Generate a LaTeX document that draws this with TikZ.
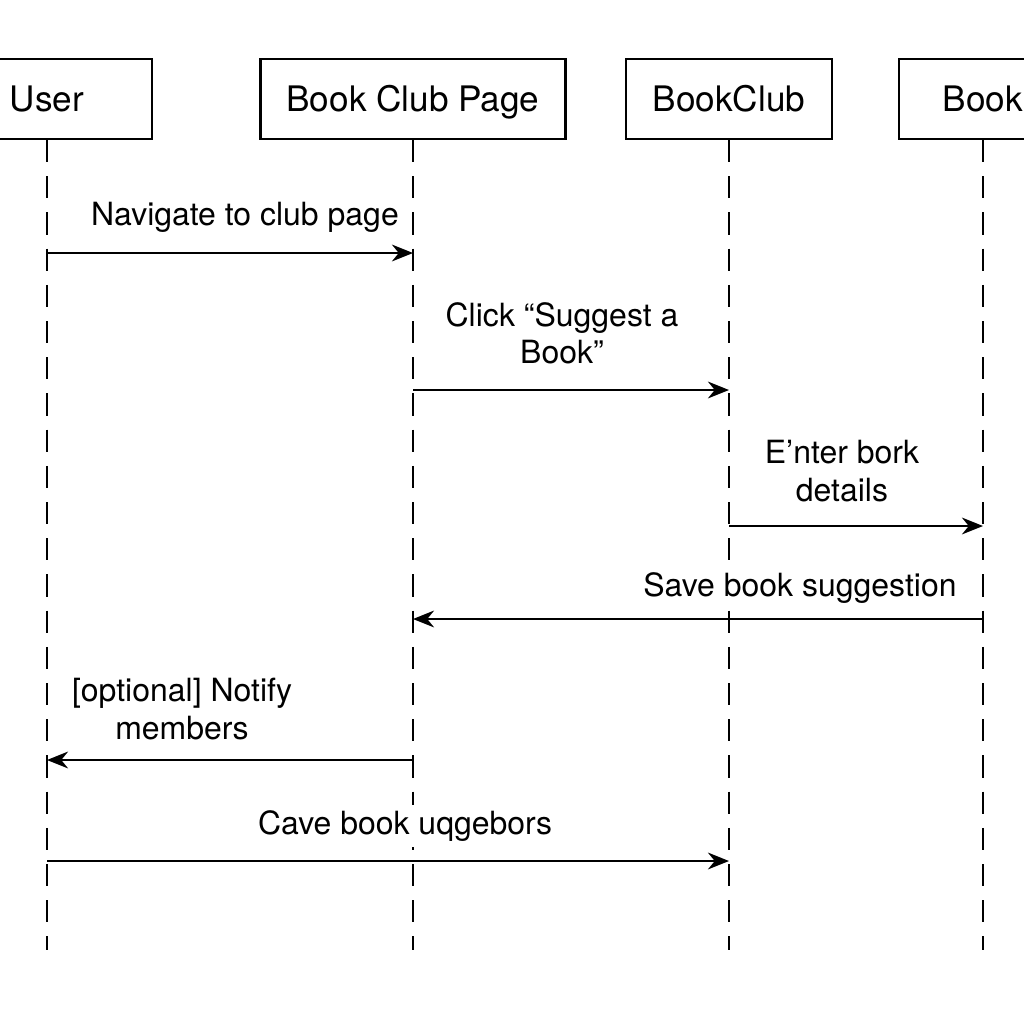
\documentclass[tikz,border=0pt]{standalone}
\usepackage{fontspec}
\setmainfont{TeX Gyre Heros}
\usetikzlibrary{arrows.meta}
\usetikzlibrary{positioning}

\begin{document}
\begin{tikzpicture}[>={Stealth[length=6pt,width=4.8pt]},
	actor/.style={draw,rectangle,line width=0.6pt,minimum height=0.8cm,inner sep=0pt,
		text height=0.9em,text depth=0.2em,font=\fontsize{10}{12}\selectfont},
	lifeline/.style={dash pattern=on 6.3pt off 4pt,line width=0.5pt},
	msg/.style={->,line width=0.5pt},
	msgtext/.style={align=center,fill=white,inner sep=1.5pt,font=\fontsize{9.1}{10.6}\selectfont}]
	\clip (0,0) rectangle (10.24,-10.24);
	
	% Participants
	% ------------
	\node[actor,minimum width=2.1cm]  (User) at (0.47,-0.99) {User};
	\node[actor,minimum width=3.05cm] (Page) at (4.13,-0.99) {Book Club Page};
	\node[actor,minimum width=2.06cm] (Club) at (7.29,-0.99) {BookClub};
	\node[actor,minimum width=1.68cm] (Book) at (9.83,-0.99) {Book};
	
	% lifelines
	\coordinate (User-end) at (0.47,-9.5);
	\coordinate (Page-end) at (4.13,-9.5);
	\coordinate (Club-end) at (7.29,-9.5);
	\coordinate (Book-end) at (9.83,-9.5);
	\draw[lifeline] (User) -- (User-end);
	\draw[lifeline] (Page) -- (Page-end);
	\draw[lifeline] (Club) -- (Club-end);
	\draw[lifeline] (Book) -- (Book-end);
	
	% Messages
	% --------
	\draw[msg] (User |- 0,-2.53) -- (Page |- 0,-2.53);
	\node[msgtext] (m1) at (2.45,-2.17) {Navigate to club page};
	
	\draw[msg] (Page |- 0,-3.90) -- (Club |- 0,-3.90);
	\node[msgtext] (m2) at (5.62,-3.33) {Click “Suggest a\\Book”};
	
	\draw[msg] (Club |- 0,-5.26) -- (Book |- 0,-5.26);
	\node[msgtext] (m3) at (8.42,-4.71) {E’nter bork\\details};
	
	\draw[msg] (Book |- 0,-6.19) -- (Page |- 0,-6.19);
	\node[msgtext] (m4) at (8.00,-5.88) {Save book suggestion};
	
	\draw[msg] (Page |- 0,-7.60) -- (User |- 0,-7.60);
	\node[msgtext] (m5) at (1.82,-7.09) {[optional] Notify\\members};
	
	\draw[msg] (User |- 0,-8.61) -- (Club |- 0,-8.61);
	\node[msgtext] (m6) at (4.05,-8.26) {Cave book uqgebors};
	
\end{tikzpicture}
\end{document}
